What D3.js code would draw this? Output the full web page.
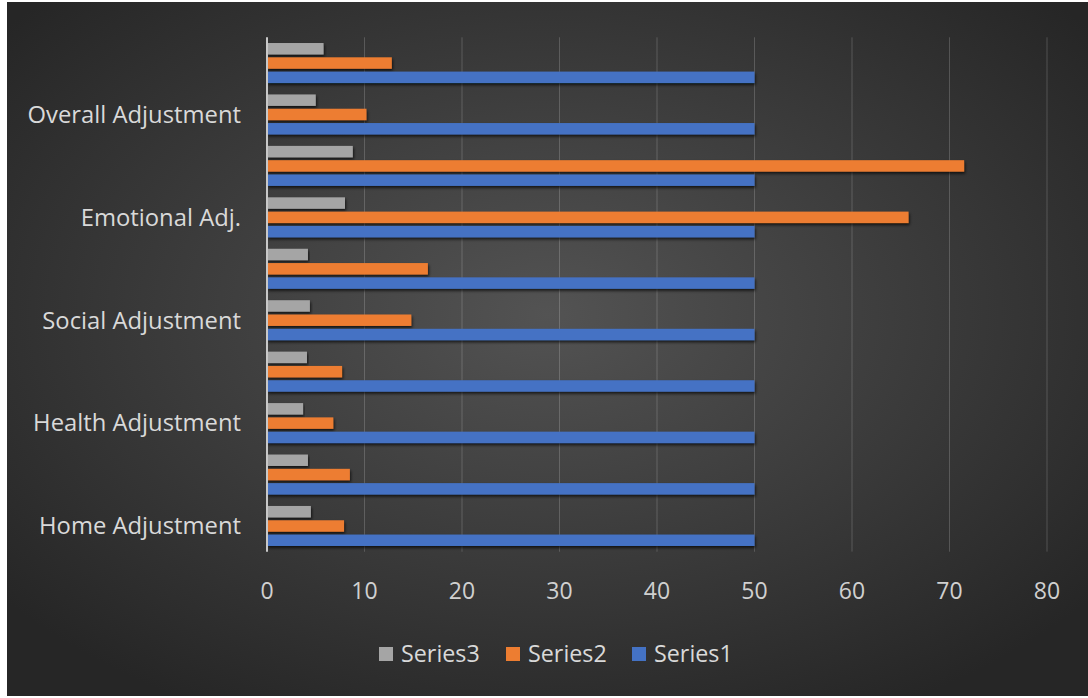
<!DOCTYPE html>
<html>
<head>
<meta charset="utf-8">
<script src="https://cdn.jsdelivr.net/npm/d3@7"></script>
<style>
  body { margin: 0; background: #ffffff; }
  svg { display: block; }
</style>
</head>
<body>
<div id="chart"></div>
<script>
// categories bottom to top, only every other row carries a label
var categoryLabels = ["Home Adjustment", "", "Health Adjustment", "", "Social Adjustment", "",
                      "Emotional Adj.", "", "Overall Adjustment", ""];
var series1 = [50, 50, 50, 50, 50, 50, 50, 50, 50, 50];
var series2 = [7.9, 8.5, 6.8, 7.7, 14.8, 16.5, 65.8, 71.5, 10.2, 12.8];
var series3 = [4.5, 4.2, 3.7, 4.1, 4.4, 4.2, 8.0, 8.8, 5.0, 5.8];
var seriesNames = ["Series3", "Series2", "Series1"];
var xTicks = [0, 10, 20, 30, 40, 50, 60, 70, 80];

var width = 1088, height = 698;
var colors = {Series1: "#4472c4", Series2: "#ed7d31", Series3: "#a5a5a5"};
var values = {Series1: series1, Series2: series2, Series3: series3};

var svg = d3.select("#chart").append("svg")
	.attr("width", width)
	.attr("height", height);

var defs = svg.append("defs");
var grad = defs.append("radialGradient")
	.attr("id", "bg")
	.attr("cx", "50%").attr("cy", "45%").attr("r", "65%");
grad.append("stop").attr("offset", "0%").attr("stop-color", "#535353");
grad.append("stop").attr("offset", "100%").attr("stop-color", "#262626");

var shadow = defs.append("filter").attr("id", "shadow")
	.attr("x", "-5%").attr("y", "-50%").attr("width", "110%").attr("height", "200%");
shadow.append("feDropShadow")
	.attr("dx", 1).attr("dy", 2).attr("stdDeviation", 1.5)
	.attr("flood-color", "#000").attr("flood-opacity", 0.7);

// dark chart area inside a thin white frame
svg.append("rect")
	.attr("x", 7).attr("y", 2)
	.attr("width", width - 7).attr("height", height - 4)
	.attr("fill", "url(#bg)");

var x = d3.scaleLinear().domain([0, 80]).range([267, 1047]);

var y0 = d3.scaleBand()
	.domain(d3.range(categoryLabels.length))
	.range([551.7, 37.3])
	.paddingInner(0.222)
	.paddingOuter(0.111);

var y1 = d3.scaleBand()
	.domain(seriesNames)
	.range([0, y0.bandwidth()])
	.paddingInner(0.2);

// gridlines
svg.append("g")
	.selectAll("line")
	.data(xTicks.slice(1))
	.enter().append("line")
		.attr("x1", function(d) {return x(d)})
		.attr("x2", function(d) {return x(d)})
		.attr("y1", 37.3)
		.attr("y2", 551.7)
		.attr("stroke", "#ffffff")
		.attr("stroke-opacity", 0.18)
		.attr("stroke-width", 1);

// bars
var groups = svg.append("g")
	.selectAll("g")
	.data(d3.range(categoryLabels.length))
	.enter().append("g")
		.attr("transform", function(i) {return "translate(0," + y0(i) + ")"});

groups.selectAll("rect")
	.data(function(i) {
		return seriesNames.map(function(s) {return {key: s, value: values[s][i]}});
	})
	.enter().append("rect")
		.attr("x", x(0))
		.attr("y", function(d) {return y1(d.key)})
		.attr("width", function(d) {return x(d.value) - x(0)})
		.attr("height", y1.bandwidth())
		.attr("fill", function(d) {return colors[d.key]})
		.attr("filter", "url(#shadow)");

// category axis line
svg.append("line")
	.attr("x1", x(0)).attr("x2", x(0))
	.attr("y1", 37.3).attr("y2", 551.7)
	.attr("stroke", "#c8c8c8")
	.attr("stroke-width", 2);

var font = "'Open Sans', 'Noto Sans', sans-serif";

// category labels
svg.append("g")
	.selectAll("text")
	.data(d3.range(categoryLabels.length))
	.enter().append("text")
		.text(function(i) {return categoryLabels[i]})
		.attr("x", 241)
		.attr("y", function(i) {return y0(i) + y0.bandwidth() / 2})
		.attr("dy", "0.35em")
		.attr("text-anchor", "end")
		.attr("font-family", font)
		.attr("font-size", 23.8)
		.attr("fill", "#d9d9d9");

// value axis labels
svg.append("g")
	.selectAll("text")
	.data(xTicks)
	.enter().append("text")
		.text(function(d) {return d})
		.attr("x", function(d) {return x(d)})
		.attr("y", 591)
		.attr("dy", "0.35em")
		.attr("text-anchor", "middle")
		.attr("font-family", font)
		.attr("font-size", 23)
		.attr("fill", "#d0d0d0");

// legend
var legendX = [379, 506, 632];
var legend = svg.append("g")
	.selectAll("g")
	.data(seriesNames)
	.enter().append("g")
		.attr("transform", function(d, i) {return "translate(" + legendX[i] + ",654)"});
legend.append("rect")
	.attr("x", 0).attr("y", -7)
	.attr("width", 14).attr("height", 14)
	.attr("fill", function(d) {return colors[d]});
legend.append("text")
	.text(function(d) {return d})
	.attr("x", 22)
	.attr("y", 0)
	.attr("dy", "0.35em")
	.attr("font-family", font)
	.attr("font-size", 23.3)
	.attr("fill", "#d9d9d9");
</script>
</body>
</html>
